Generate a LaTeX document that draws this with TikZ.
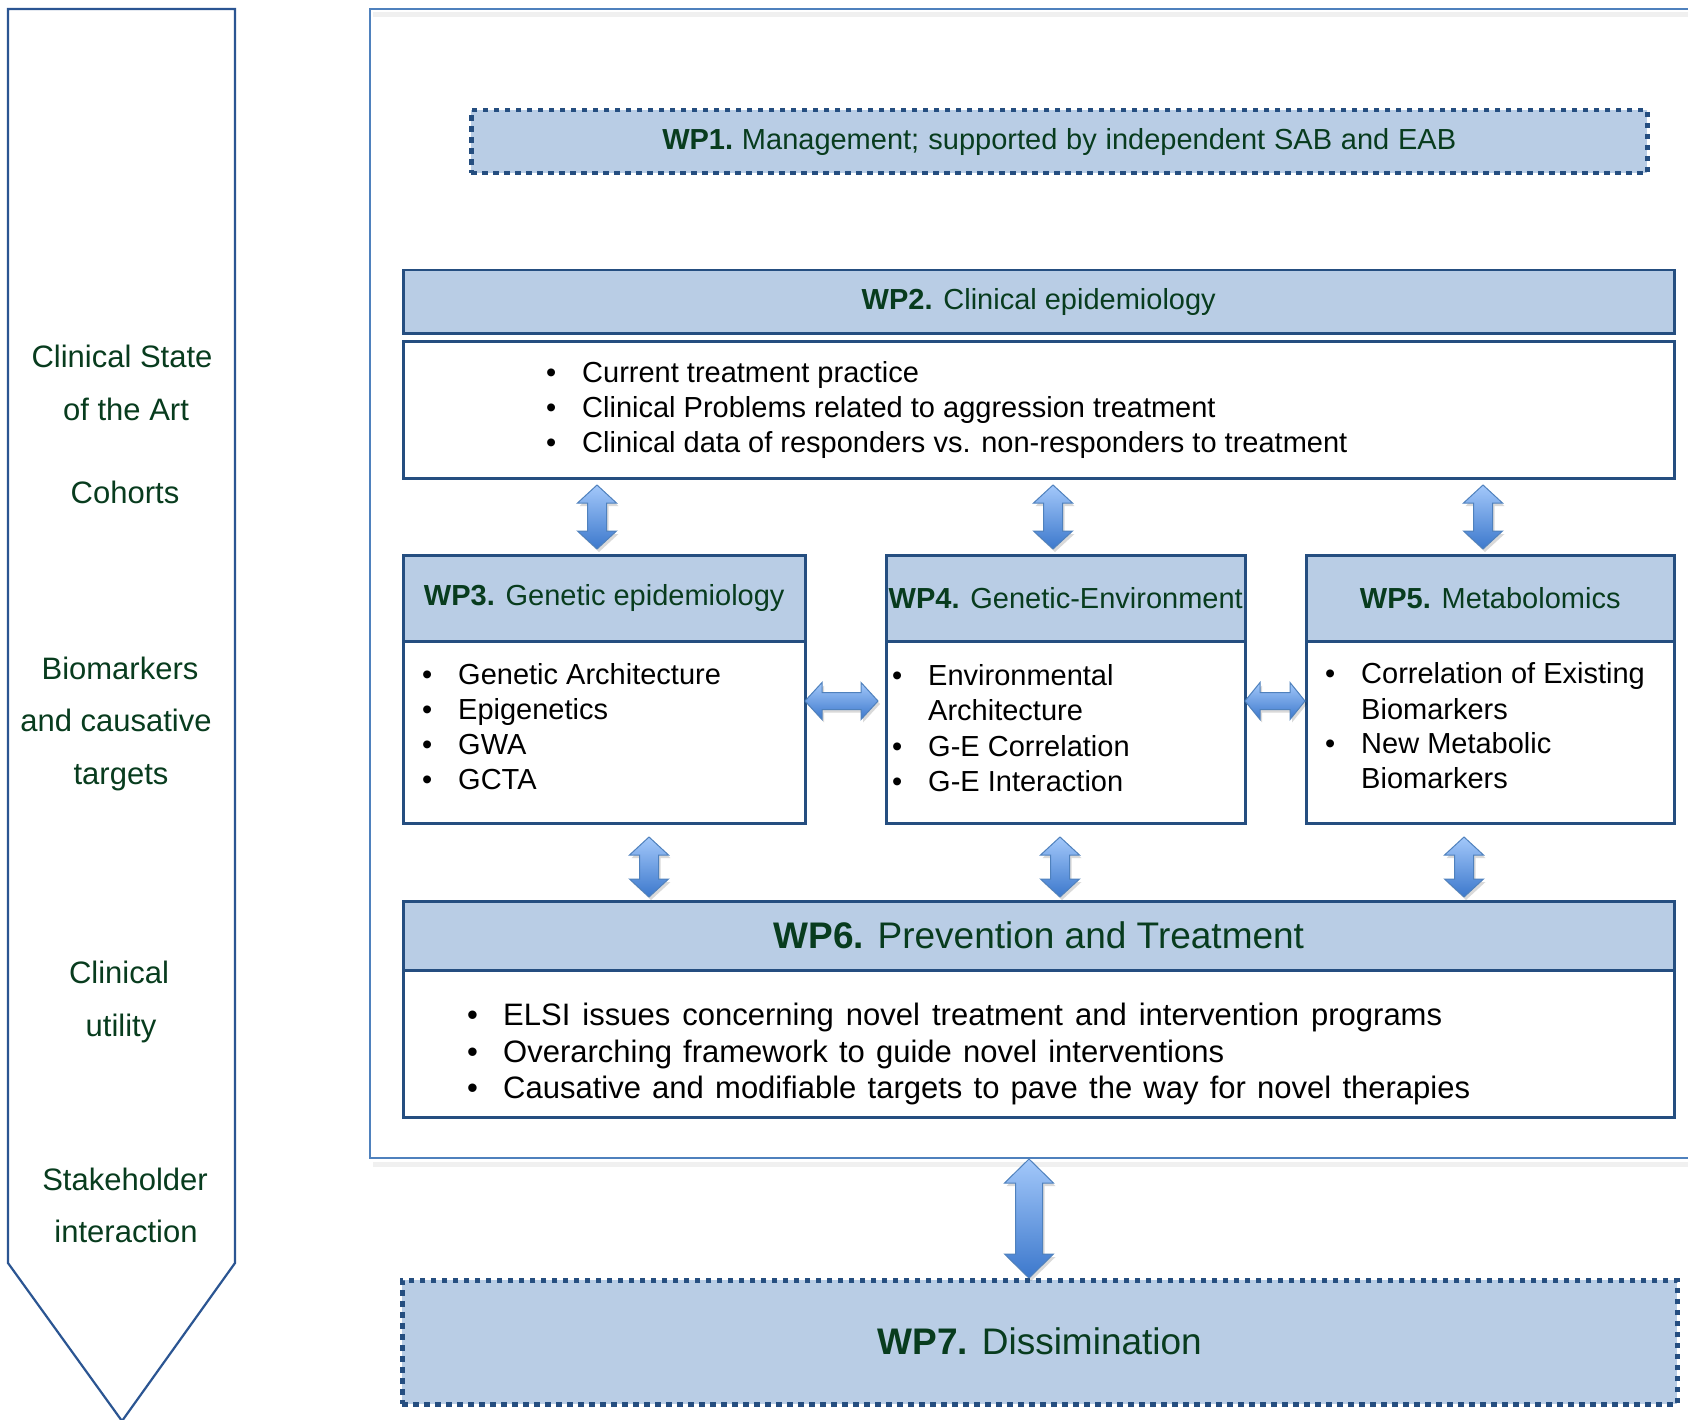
\documentclass[tikz,border=0pt]{standalone}
\usepackage{fontspec}
\setmainfont{Liberation Sans}
\usetikzlibrary{calc}
\definecolor{hdrfill}{HTML}{B9CDE5}
\definecolor{bordblue}{HTML}{254E80}
\definecolor{frameblue}{HTML}{4F81BD}
\definecolor{pentblue}{HTML}{2B5592}
\definecolor{txtgreen}{HTML}{083C1E}
\definecolor{arrtop}{HTML}{A3C8FA}
\definecolor{arrbot}{HTML}{3C78CC}
\definecolor{arrline}{HTML}{4F81BD}
\newcommand{\bitem}{\makebox[36pt][l]{\textbullet}}
% vertical double block arrow: [style]{cx}{ytop}{ybot}{head half}{shaft half}{head len}
\newcommand{\vdarr}[7][]{\path[#1] (#2,#3) -- ({#2+#5},{#3+#7}) -- ({#2+#6},{#3+#7}) -- ({#2+#6},{#4-#7}) -- ({#2+#5},{#4-#7}) -- (#2,#4) -- ({#2-#5},{#4-#7}) -- ({#2-#6},{#4-#7}) -- ({#2-#6},{#3+#7}) -- ({#2-#5},{#3+#7}) -- cycle;}
% horizontal double block arrow: [style]{cy}{xleft}{xright}{head half}{shaft half}{head len}
\newcommand{\hdarr}[7][]{\path[#1] (#3,#2) -- ({#3+#7},{#2-#5}) -- ({#3+#7},{#2-#6}) -- ({#4-#7},{#2-#6}) -- ({#4-#7},{#2-#5}) -- (#4,#2) -- ({#4-#7},{#2+#5}) -- ({#4-#7},{#2+#6}) -- ({#3+#7},{#2+#6}) -- ({#3+#7},{#2+#5}) -- cycle;}
\begin{document}
\begin{tikzpicture}[x=1pt,y=-1pt,
  hdr/.style={draw=bordblue, fill=hdrfill, line width=2.5pt, inner sep=0pt, text=txtgreen, font=\fontsize{29}{35}\selectfont},
  bodybox/.style={draw=bordblue, fill=white, line width=2.5pt, inner sep=0pt},
  dotbox/.style={draw=bordblue, fill=hdrfill, line width=4.5pt, dash pattern=on 5.5pt off 5.5pt, inner sep=0pt, text=txtgreen},
  btxt/.style={anchor=base west, inner sep=0pt, font=\fontsize{29}{35}\selectfont, text=black},
  ltxt/.style={anchor=base, inner sep=0pt, font=\fontsize{31}{36}\selectfont, text=txtgreen},
  blockarrow/.style={top color=arrtop, bottom color=arrbot, draw=arrline, line width=1pt},
  ashadow/.style={fill=black, opacity=0.15, shift={(2,3)}}
]
\useasboundingbox (0,0) rectangle (1688,1420);
\clip (0,0) rectangle (1688,1420);
\fill[white] (0,0) rectangle (1688,1420);

% left pentagon
\draw[pentblue, line width=2.2pt, line join=miter] (8,9) -- (235,9) -- (235,1263) -- (122,1421) -- (8,1263) -- cycle;
\node[ltxt] (l1) at (122,367) {Clinical State};
\node[ltxt] (l2) at (126,420) {of the Art};
\node[ltxt] (l3) at (125,503) {Cohorts};
\node[ltxt] (l4) at (120,679) {Biomarkers};
\node[ltxt] (l5) at (116,731) {and causative};
\node[ltxt] (l6) at (121,784) {targets};
\node[ltxt] (l7) at (119,983) {Clinical};
\node[ltxt] (l8) at (121,1036) {utility};
\node[ltxt] (l9) at (125,1190) {Stakeholder};
\node[ltxt] (l10) at (126,1242) {interaction};

% outer frame with faint shadow
\draw[black!6, line width=5pt] (373,15) -- (1720,15);
\draw[black!6, line width=5pt] (373,1164) -- (1720,1164);
\draw[frameblue, line width=2pt] (370,9) rectangle (1720,1158);

% WP1
\node[dotbox, minimum width=1176pt, minimum height=63pt, anchor=north west, font=\fontsize{29}{34}\selectfont] (wp1) at (469,108)
  {\makebox[794pt][s]{\textbf{WP1.}\ Management; supported by independent SAB and EAB}};

% WP2
\node[hdr, minimum width=1271pt, minimum height=63pt, anchor=north west] (wp2h) at (402,269) {\textbf{WP2.} Clinical epidemiology};
\node[bodybox, minimum width=1271pt, minimum height=137pt, anchor=north west] (wp2b) at (402,340) {};
\node[btxt] (t21) at (546,382) {\bitem Current treatment practice};
\node[btxt] (t22) at (546,417) {\bitem Clinical Problems related to aggression treatment};
\node[btxt] (t23) at (546,452) {\bitem Clinical data of responders vs. non-responders to treatment};

% WP3
\node[bodybox, minimum width=402pt, minimum height=182pt, anchor=north west] (wp3b) at (402,640) {};
\node[hdr, minimum width=402pt, minimum height=86pt, anchor=north west] (wp3h) at (402,554) {\textbf{WP3.} Genetic epidemiology};
\node[btxt] (t31) at (422,684) {\bitem Genetic Architecture};
\node[btxt] (t32) at (422,719) {\bitem Epigenetics};
\node[btxt] (t33) at (422,754) {\bitem GWA};
\node[btxt] (t34) at (422,789) {\bitem GCTA};

% WP4
\node[bodybox, minimum width=359pt, minimum height=182pt, anchor=north west] (wp4b) at (885,640) {};
\node[hdr, minimum width=359pt, minimum height=86pt, anchor=north west] (wp4h) at (885,554) {\textbf{WP4.} Genetic-Environment};
\node[btxt] (t41) at (892,685) {\bitem Environmental};
\node[btxt] (t42) at (928,720.5) {Architecture};
\node[btxt] (t43) at (892,756) {\bitem G-E Correlation};
\node[btxt] (t44) at (892,791) {\bitem G-E Interaction};

% WP5
\node[bodybox, minimum width=368pt, minimum height=182pt, anchor=north west] (wp5b) at (1305,640) {};
\node[hdr, minimum width=368pt, minimum height=86pt, anchor=north west] (wp5h) at (1305,554) {\textbf{WP5.} Metabolomics};
\node[btxt] (t51) at (1325,683) {\bitem Correlation of Existing};
\node[btxt] (t52) at (1361,719) {Biomarkers};
\node[btxt] (t53) at (1325,753) {\bitem New Metabolic};
\node[btxt] (t54) at (1361,788) {Biomarkers};

% WP6
\node[hdr, minimum width=1271pt, minimum height=69pt, anchor=north west, font=\fontsize{37}{44}\selectfont] (wp6h) at (402,900) {\textbf{WP6.} Prevention and Treatment};
\node[bodybox, minimum width=1271pt, minimum height=147pt, anchor=north west] (wp6b) at (402,969) {};
\node[btxt, font=\fontsize{31}{36}\selectfont] (t61) at (467,1025) {\bitem\makebox[939pt][s]{ELSI issues concerning novel treatment and intervention programs}};
\node[btxt, font=\fontsize{31}{36}\selectfont] (t62) at (467,1062) {\bitem\makebox[721pt][s]{Overarching framework to guide novel interventions}};
\node[btxt, font=\fontsize{31}{36}\selectfont] (t63) at (467,1098) {\bitem\makebox[967pt][s]{Causative and modifiable targets to pave the way for novel therapies}};

% WP7
\node[dotbox, minimum width=1275pt, minimum height=124pt, anchor=north west, font=\fontsize{37}{44}\selectfont] (wp7) at (400,1278) {\raisebox{2pt}{\textbf{WP7.} Dissimination}};

% arrows WP2 -> WP3/4/5
\foreach \cx in {597,1053,1483} {
  \vdarr[ashadow]{\cx}{485}{549}{19.5}{9.5}{18}
  \vdarr[blockarrow]{\cx}{485}{549}{19.5}{9.5}{18}
}
% arrows WP3/4/5 -> WP6
\foreach \cx in {649,1060,1464} {
  \vdarr[ashadow]{\cx}{837}{897}{19.5}{9.5}{18}
  \vdarr[blockarrow]{\cx}{837}{897}{19.5}{9.5}{18}
}
% horizontal arrows
\hdarr[ashadow]{701}{805}{878}{18.5}{8.5}{17}
\hdarr[blockarrow]{701}{805}{878}{18.5}{8.5}{17}
\hdarr[ashadow]{701}{1245}{1305}{18.5}{8.5}{15}
\hdarr[blockarrow]{701}{1245}{1305}{18.5}{8.5}{15}
% big arrow to WP7
\vdarr[ashadow]{1029}{1159}{1278}{24.5}{13.5}{24}
\vdarr[blockarrow]{1029}{1159}{1278}{24.5}{13.5}{24}
\end{tikzpicture}
\end{document}
